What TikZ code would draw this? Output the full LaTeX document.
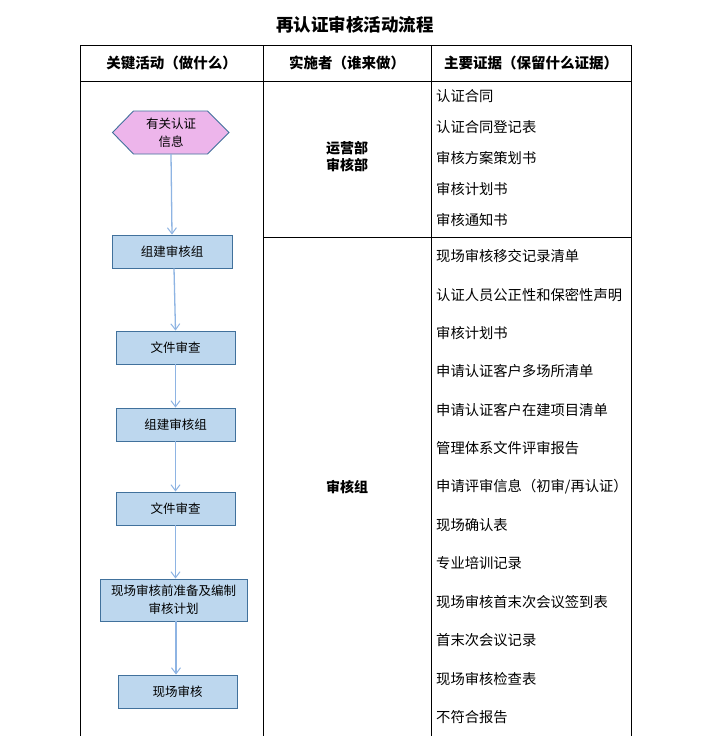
\documentclass[tikz,border=0pt]{standalone}
\usepackage{fontspec}
\setmainfont{Noto Sans CJK SC}
\usetikzlibrary{arrows.meta}
\definecolor{boxfill}{HTML}{BDD7EE}
\definecolor{boxline}{HTML}{41719C}
\definecolor{hexfill}{HTML}{EDB5EB}
\definecolor{arrowc}{HTML}{8EB4E3}
\tikzset{
  grid/.style={draw=black, line width=1pt},
  flowbox/.style={draw=boxline, fill=boxfill, line width=0.9pt, align=center, font=\fontsize{12.5}{16}\selectfont, inner sep=0pt},
  flowarrow/.style={draw=arrowc, line width=1.3pt, -{Straight Barb[length=6pt,width=9pt,line width=1pt]}},
  evid/.style={anchor=west, font=\fontsize{14.3}{16}\selectfont, inner sep=0pt},
  head/.style={font=\fontsize{14.5}{16}\selectfont\bfseries},
  actor/.style={font=\fontsize{14}{17}\selectfont\bfseries, align=center}
}
\begin{document}
\begin{tikzpicture}[x=1pt,y=-1pt]
\useasboundingbox[fill=white] (0,0) rectangle (712,736);
% title
\node[font=\fontsize{17.5}{20}\selectfont\bfseries] (title) at (355,25) {再认证审核活动流程};
% table
\draw[grid] (80,736) -- (80,45) -- (631,45) -- (631,736);
\draw[grid] (80,81) -- (631,81);
\draw[grid] (263,45) -- (263,736);
\draw[grid] (431,45) -- (431,736);
\draw[grid] (263,237) -- (631,237);
\node[head] (h1) at (171.5,63) {关键活动（做什么）};
\node[head] (h2) at (347,63) {实施者（谁来做）};
\node[head] (h3) at (531,63) {主要证据（保留什么证据）};
% actors
\node[actor] (a1) at (347,157) {运营部\\审核部};
\node[actor] (a2) at (347,487) {审核组};
% evidence
\node[evid] (e1) at (436,96) {认证合同};
\node[evid] (e2) at (436,127) {认证合同登记表};
\node[evid] (e3) at (436,158) {审核方案策划书};
\node[evid] (e4) at (436,189) {审核计划书};
\node[evid] (e5) at (436,220) {审核通知书};
\node[evid] (e6) at (436,256) {现场审核移交记录清单};
\node[evid] (e7) at (436,295) {认证人员公正性和保密性声明};
\node[evid] (e8) at (436,333) {审核计划书};
\node[evid] (e9) at (436,371) {申请认证客户多场所清单};
\node[evid] (e10) at (436,410) {申请认证客户在建项目清单};
\node[evid] (e11) at (436,448) {管理体系文件评审报告};
\node[evid] (e12) at (436,487) {申请评审信息（初审/再认证）};
\node[evid] (e13) at (436,525) {现场确认表};
\node[evid] (e14) at (436,563) {专业培训记录};
\node[evid] (e15) at (436,602) {现场审核首末次会议签到表};
\node[evid] (e16) at (436,640) {首末次会议记录};
\node[evid] (e17) at (436,679) {现场审核检查表};
\node[evid] (e18) at (436,717) {不符合报告};
% flow
\draw[boxline, fill=hexfill, line width=0.9pt] (112.5,132.5) -- (133.5,111) -- (207.5,111) -- (229,132.5) -- (207.5,154) -- (133.5,154) -- cycle;
\node[minimum width=116pt, minimum height=43pt, inner sep=0pt, align=center, font=\fontsize{12.5}{18}\selectfont] (n0) at (171,132.5) {有关认证\\信息};
\node[flowbox, minimum width=120pt, minimum height=33pt] (n1) at (172,251.5) {组建审核组};
\node[flowbox, minimum width=119pt, minimum height=33pt] (n2) at (175.5,347.5) {文件审查};
\node[flowbox, minimum width=119pt, minimum height=33pt] (n3) at (175.5,424.5) {组建审核组};
\node[flowbox, minimum width=119pt, minimum height=33pt] (n4) at (175.5,508.5) {文件审查};
\node[flowbox, minimum width=147pt, minimum height=42pt, font=\fontsize{12.5}{18}\selectfont] (n5) at (173.5,600) {现场审核前准备及编制\\审核计划};
\node[flowbox, minimum width=119pt, minimum height=33pt] (n6) at (177.5,691.5) {现场审核};
\draw[flowarrow] (n0.south) -- (n1.north);
\draw[flowarrow] ([xshift=2pt]n1.south) -- (n2.north);
\draw[flowarrow] (n2.south) -- (n3.north);
\draw[flowarrow] (n3.south) -- (n4.north);
\draw[flowarrow] (n4.south) -- (n4.south |- n5.north);
\draw[flowarrow] ([xshift=2.5pt]n5.south) -- ([xshift=2.5pt]n5.south |- n6.north);
\end{tikzpicture}
\end{document}
